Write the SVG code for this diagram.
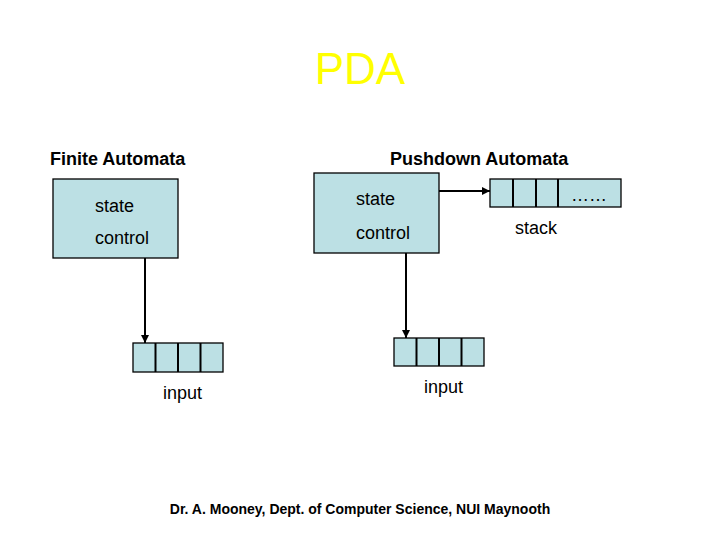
<svg xmlns="http://www.w3.org/2000/svg" width="720" height="540" viewBox="0 0 720 540">
<defs>
<style>
.box{fill:#BCE0E4;stroke:#000;stroke-width:1.3}
.t{font-family:"Liberation Sans",Arial,sans-serif;font-size:18px;fill:#000}
.h{font-family:"Liberation Sans",Arial,sans-serif;font-size:18px;font-weight:bold;fill:#000}
.ln{stroke:#000;stroke-width:2;fill:none}
</style>
<marker id="ah" viewBox="0 0 10 10" refX="10" refY="5" markerWidth="4" markerHeight="4" orient="auto" markerUnits="strokeWidth">
<path d="M0,0 L10,5 L0,10 z" fill="#000"/>
</marker>
</defs>
<rect width="720" height="540" fill="#fff"/>
<text x="360" y="84" text-anchor="middle" font-family="'Liberation Sans',Arial,sans-serif" font-size="44" fill="#FFFF00">PDA</text>
<text class="h" x="50" y="165">Finite Automata</text>
<text class="h" x="390" y="165">Pushdown Automata</text>
<g id="fa-control">
<rect class="box" x="53" y="179" width="125" height="79"/>
<text class="t" x="95" y="212">state</text>
<text class="t" x="95" y="244">control</text>
</g>
<g id="fa-input">
<rect class="box" x="133" y="343" width="90" height="29"/>
<path d="M155.5,343V372M178,343V372M200.5,343V372" class="ln" stroke-width="1.3"/>
<text class="t" x="163" y="399">input</text>
</g>
<g id="pda-control">
<rect class="box" x="314" y="173" width="125" height="80"/>
<text class="t" x="356" y="205">state</text>
<text class="t" x="356" y="239">control</text>
</g>
<g id="pda-stack">
<rect class="box" x="490" y="179" width="131" height="28"/>
<path d="M513,179V207M536,179V207M558,179V207" class="ln" stroke-width="1.3"/>
<text class="t" x="571" y="201">……</text>
<text class="t" x="515" y="234">stack</text>
</g>
<g id="pda-input">
<rect class="box" x="394" y="338" width="90" height="28"/>
<path d="M416.5,338V366M439,338V366M461.5,338V366" class="ln" stroke-width="1.3"/>
<text class="t" x="424" y="393">input</text>
</g>
<g id="connectors">
<line class="ln" x1="145" y1="258" x2="145" y2="343" marker-end="url(#ah)"/>
<line class="ln" x1="406" y1="253" x2="406" y2="338" marker-end="url(#ah)"/>
<line class="ln" x1="439" y1="191" x2="490" y2="191" marker-end="url(#ah)"/>
</g>
<text x="360" y="514" text-anchor="middle" font-family="'Liberation Sans',Arial,sans-serif" font-size="14" font-weight="bold" fill="#000">Dr. A. Mooney, Dept. of Computer Science, NUI Maynooth</text>
</svg>
